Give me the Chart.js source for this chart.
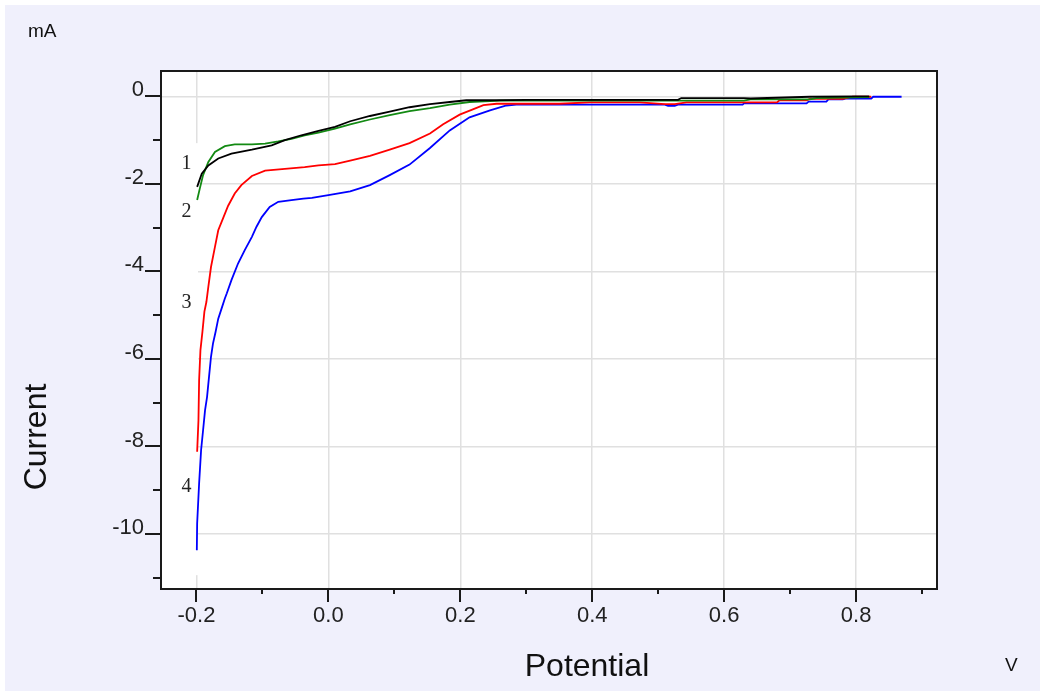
<!DOCTYPE html>
<html>
<head>
<meta charset="utf-8">
<script src="https://cdn.jsdelivr.net/npm/chart.js@4.4.1/dist/chart.umd.min.js"></script>
<style>
  html, body { margin: 0; padding: 0; background: #ffffff; }
  #wrap { width: 1040px; height: 691px; }
</style>
</head>
<body>
<div id="wrap"><canvas id="c" width="1040" height="691"></canvas></div>
<script>
// Polarisation curves: potential (V) vs current (mA), four runs.
const potential1 = [-0.199, -0.192, -0.182, -0.167, -0.147, -0.116, -0.086, -0.066, -0.041, -0.015, 0.010, 0.033, 0.063, 0.093, 0.123, 0.154, 0.184, 0.209, 0.255, 0.30, 0.40, 0.53, 0.535, 0.63, 0.64, 0.73, 0.80, 0.82];
const current1   = [-2.07, -1.77, -1.58, -1.42, -1.31, -1.22, -1.12, -1.00, -0.89, -0.79, -0.70, -0.57, -0.45, -0.35, -0.25, -0.18, -0.13, -0.09, -0.09, -0.08, -0.08, -0.08, -0.04, -0.04, -0.05, -0.01, 0.0, 0.0];

const potential2 = [-0.199, -0.195, -0.190, -0.182, -0.172, -0.157, -0.142, -0.116, -0.096, -0.076, -0.056, -0.036, -0.015, 0.010, 0.033, 0.063, 0.093, 0.123, 0.154, 0.184, 0.214, 0.245, 0.26, 0.53, 0.63, 0.64, 0.73, 0.74, 0.82];
const current2   = [-2.37, -2.11, -1.80, -1.50, -1.27, -1.14, -1.10, -1.10, -1.08, -1.03, -0.97, -0.89, -0.83, -0.74, -0.64, -0.53, -0.43, -0.34, -0.27, -0.19, -0.13, -0.11, -0.10, -0.10, -0.10, -0.07, -0.07, -0.04, -0.02];

const potential3 = [-0.199, -0.197, -0.196, -0.194, -0.191, -0.188, -0.185, -0.182, -0.178, -0.172, -0.167, -0.159, -0.152, -0.142, -0.132, -0.116, -0.096, -0.066, -0.036, -0.015, 0.010, 0.033, 0.063, 0.093, 0.123, 0.154, 0.174, 0.199, 0.219, 0.235, 0.255, 0.35, 0.396, 0.472, 0.51, 0.525, 0.543, 0.68, 0.684, 0.725, 0.73, 0.78, 0.795, 0.823];
const current3   = [-8.12, -7.40, -6.48, -5.80, -5.38, -4.92, -4.70, -4.35, -3.90, -3.44, -3.06, -2.76, -2.50, -2.22, -2.03, -1.82, -1.70, -1.66, -1.62, -1.58, -1.55, -1.47, -1.36, -1.22, -1.07, -0.85, -0.64, -0.42, -0.30, -0.20, -0.17, -0.17, -0.14, -0.14, -0.18, -0.18, -0.14, -0.14, -0.09, -0.09, -0.06, -0.06, -0.01, -0.01];

const potential4 = [-0.1995, -0.199, -0.196, -0.193, -0.190, -0.187, -0.184, -0.181, -0.178, -0.175, -0.171, -0.167, -0.162, -0.157, -0.154, -0.147, -0.137, -0.127, -0.116, -0.109, -0.101, -0.089, -0.076, -0.056, -0.038, -0.025, 0.000, 0.033, 0.063, 0.093, 0.123, 0.154, 0.184, 0.214, 0.245, 0.270, 0.285, 0.51, 0.515, 0.525, 0.53, 0.628, 0.63, 0.725, 0.728, 0.755, 0.758, 0.78, 0.785, 0.823, 0.826, 0.869];
const current4   = [-10.37, -9.76, -8.84, -8.08, -7.63, -7.17, -6.87, -6.41, -5.95, -5.65, -5.38, -5.08, -4.85, -4.62, -4.50, -4.20, -3.82, -3.52, -3.21, -2.98, -2.76, -2.53, -2.41, -2.37, -2.34, -2.32, -2.26, -2.17, -2.03, -1.80, -1.56, -1.18, -0.78, -0.48, -0.32, -0.21, -0.19, -0.19, -0.22, -0.22, -0.19, -0.19, -0.16, -0.16, -0.12, -0.12, -0.07, -0.07, -0.05, -0.05, -0.01, -0.01];

const curveLabels = ['1', '2', '3', '4'];
const curveColors = ['#000000', '#138a13', '#ff0000', '#0000ff'];
// label anchors, in data units (potential, current)
const labelPotential = [-0.2150, -0.2150, -0.2150, -0.2150];
const labelCurrent   = [-1.53, -2.64, -4.71, -8.91];

const xTickLabels = ['-0.2', '0.0', '0.2', '0.4', '0.6', '0.8'];
const yTickLabels = ['0', '-2', '-4', '-6', '-8', '-10'];

const xMin = -0.2538, xMax = 0.9227;
const yMin = -11.256, yMax = 0.578;

function toPoints(xs, ys) { return xs.map((v, i) => ({ x: v, y: ys[i] })); }

const series = [
  toPoints(potential1, current1),
  toPoints(potential2, current2),
  toPoints(potential3, current3),
  toPoints(potential4, current4)
];

const SANS = '"Liberation Sans", Arial, sans-serif';
const SERIF = '"Liberation Serif", "Times New Roman", serif';

const backdrop = {
  id: 'backdrop',
  beforeDraw(chart) {
    const { ctx, chartArea: a } = chart;
    ctx.save();
    ctx.fillStyle = '#ffffff';
    ctx.fillRect(0, 0, chart.width, chart.height);
    ctx.fillStyle = '#f0f0fc';
    ctx.fillRect(5, 5, chart.width - 5, chart.height - 5);
    ctx.fillStyle = '#ffffff';
    ctx.fillRect(a.left, a.top, a.right - a.left, a.bottom - a.top);
    ctx.restore();
  },
  beforeDatasetsDraw(chart) {
    // white column behind the curve numbers
    const { ctx, chartArea: a, scales: { x, y } } = chart;
    ctx.save();
    ctx.fillStyle = '#ffffff';
    const top = y.getPixelForValue(-1.07);
    const bot = y.getPixelForValue(-10.94);
    ctx.fillRect(a.left + 1, top, x.getPixelForValue(-0.2) + 1.5 - a.left - 1, bot - top);
    ctx.restore();
  },
  afterDatasetsDraw(chart) {
    const { ctx, chartArea: a, scales: { x, y } } = chart;
    ctx.save();
    // frame
    ctx.strokeStyle = '#1a1a1a';
    ctx.lineWidth = 2;
    ctx.strokeRect(a.left, a.top, a.right - a.left, a.bottom - a.top);
    // tick marks, major and minor
    ctx.lineWidth = 2;
    ctx.beginPath();
    for (let k = -2; k <= 9; k++) {
      const px = Math.round(x.getPixelForValue(k / 10));
      const len = (k % 2 === 0) ? 13 : 5;
      ctx.moveTo(px, a.bottom);
      ctx.lineTo(px, a.bottom + len);
    }
    for (let k = 0; k >= -11; k--) {
      const py = Math.round(y.getPixelForValue(k));
      const len = (k % 2 === 0) ? 16 : 8;
      ctx.moveTo(a.left, py);
      ctx.lineTo(a.left - len, py);
    }
    ctx.stroke();
    // curve numbers
    ctx.fillStyle = '#222222';
    ctx.font = '20px ' + SERIF;
    ctx.textAlign = 'center';
    ctx.textBaseline = 'middle';
    curveLabels.forEach((t, i) => {
      ctx.fillText(t, x.getPixelForValue(labelPotential[i]), y.getPixelForValue(labelCurrent[i]));
    });
    // axis titles and units
    ctx.fillStyle = '#111111';
    ctx.textBaseline = 'alphabetic';
    ctx.font = '32px ' + SANS;
    ctx.fillText('Potential', 587, 676);
    ctx.save();
    ctx.translate(46, 437);
    ctx.rotate(-Math.PI / 2);
    ctx.fillText('Current', 0, 0);
    ctx.restore();
    ctx.font = '19px ' + SANS;
    ctx.textAlign = 'left';
    ctx.fillText('mA', 28, 37);
    ctx.fillText('V', 1005, 671);
    ctx.restore();
  }
};

new Chart(document.getElementById('c'), {
  type: 'line',
  data: {
    datasets: series.map((pts, i) => ({
      label: curveLabels[i],
      data: pts,
      borderColor: curveColors[i],
      backgroundColor: curveColors[i],
      borderWidth: 1.8,
      pointRadius: 0,
      tension: 0,
      fill: false
    }))
  },
  options: {
    responsive: false,
    animation: false,
    devicePixelRatio: 1,
    layout: { padding: { left: 0, top: 71, right: 103, bottom: 0 } },
    plugins: { legend: { display: false }, tooltip: { enabled: false }, title: { display: false } },
    scales: {
      x: {
        type: 'linear',
        min: xMin,
        max: xMax,
        afterFit(s) { s.height = 102; },
        border: { display: false },
        grid: { color: '#e0e0e0', lineWidth: 1.5, drawTicks: false },
        ticks: {
          stepSize: 0.2,
          includeBounds: false,
          padding: 14,
          color: '#222222',
          font: { family: SANS, size: 22 },
          maxRotation: 0,
          autoSkip: false,
          callback(v) {
            const i = Math.round((v + 0.2) / 0.2);
            return xTickLabels[i] !== undefined ? xTickLabels[i] : '';
          }
        }
      },
      y: {
        type: 'linear',
        min: yMin,
        max: yMax,
        afterFit(s) { s.width = 161; },
        border: { display: false },
        grid: { color: '#e0e0e0', lineWidth: 1.5, drawTicks: false },
        ticks: {
          stepSize: 2,
          includeBounds: false,
          padding: 17,
          labelOffset: -6,
          color: '#222222',
          font: { family: SANS, size: 22 },
          autoSkip: false,
          callback(v) {
            const i = Math.round(-v / 2);
            return yTickLabels[i] !== undefined ? yTickLabels[i] : '';
          }
        }
      }
    }
  },
  plugins: [backdrop]
});
</script>
</body>
</html>
